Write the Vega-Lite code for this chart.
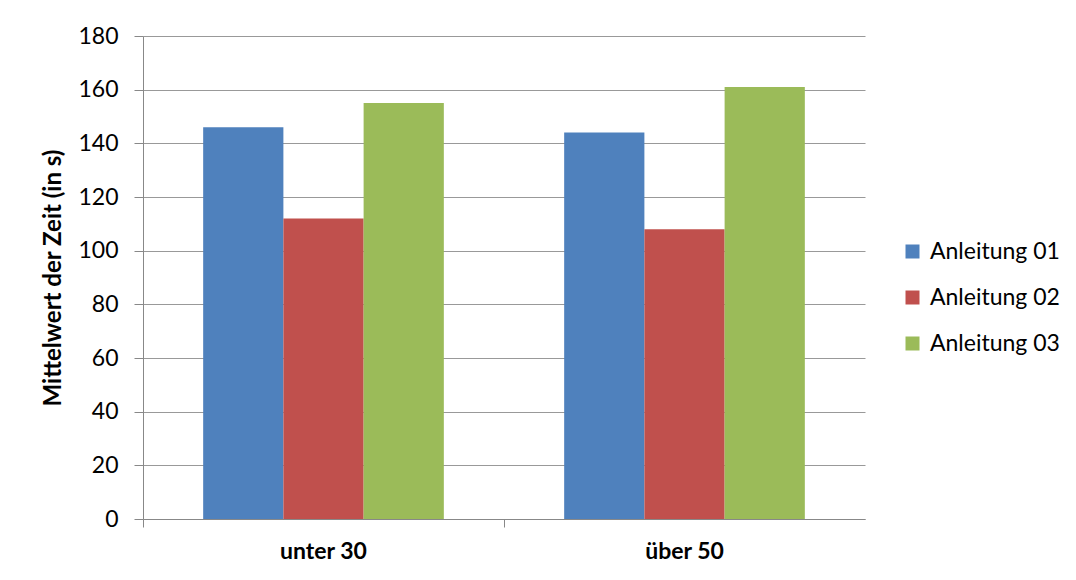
{
  "$schema": "https://vega.github.io/schema/vega-lite/v6.json",
  "autosize": "none",
  "width": 722,
  "height": 483,
  "padding": {"left": 143, "top": 36, "right": 211, "bottom": 61},
  "background": "white",
  "config": {
    "font": "Lato",
    "view": {"stroke": null},
    "axis": {"labelFont": "Lato", "titleFont": "Lato"}
  },
  "data": {
    "values": [
      {"gruppe": "unter 30", "serie": "Anleitung 01", "wert": 146},
      {"gruppe": "unter 30", "serie": "Anleitung 02", "wert": 112},
      {"gruppe": "unter 30", "serie": "Anleitung 03", "wert": 155},
      {"gruppe": "über 50", "serie": "Anleitung 01", "wert": 144},
      {"gruppe": "über 50", "serie": "Anleitung 02", "wert": 108},
      {"gruppe": "über 50", "serie": "Anleitung 03", "wert": 161}
    ]
  },
  "mark": {"type": "bar"},
  "encoding": {
    "x": {
      "field": "gruppe",
      "type": "nominal",
      "sort": ["unter 30", "über 50"],
      "scale": {"paddingInner": 0, "paddingOuter": 0},
      "axis": {
        "title": null,
        "labelAngle": 0,
        "labelFontSize": 23,
        "labelFontWeight": "bold",
        "labelColor": "#000000",
        "labelPadding": 13,
        "domainColor": "#888888",
        "tickColor": "#888888",
        "tickSize": 8,
        "bandPosition": 0,
        "grid": false
      }
    },
    "xOffset": {
      "field": "serie",
      "type": "nominal",
      "scale": {"paddingInner": 0, "paddingOuter": 0.75}
    },
    "y": {
      "field": "wert",
      "type": "quantitative",
      "scale": {"domain": [0, 180], "nice": false},
      "axis": {
        "title": "Mittelwert der Zeit (in s)",
        "titleFontSize": 24,
        "titleFontWeight": "bold",
        "titleColor": "#000000",
        "titlePadding": 12,
        "values": [0, 20, 40, 60, 80, 100, 120, 140, 160, 180],
        "labelFontSize": 23,
        "labelColor": "#000000",
        "labelPadding": 16,
        "tickSize": 9,
        "tickColor": "#888888",
        "domainColor": "#888888",
        "gridColor": "#999999",
        "grid": true
      }
    },
    "color": {
      "field": "serie",
      "type": "nominal",
      "scale": {
        "domain": ["Anleitung 01", "Anleitung 02", "Anleitung 03"],
        "range": ["#4F81BD", "#C0504D", "#9BBB59"]
      },
      "legend": {
        "title": null,
        "orient": "none",
        "legendX": 758,
        "legendY": 204,
        "symbolType": "square",
        "symbolSize": 196,
        "symbolStrokeWidth": 0,
        "labelFontSize": 23,
        "labelColor": "#000000",
        "labelFont": "Lato",
        "rowPadding": 22,
        "labelOffset": 6
      }
    }
  }
}
